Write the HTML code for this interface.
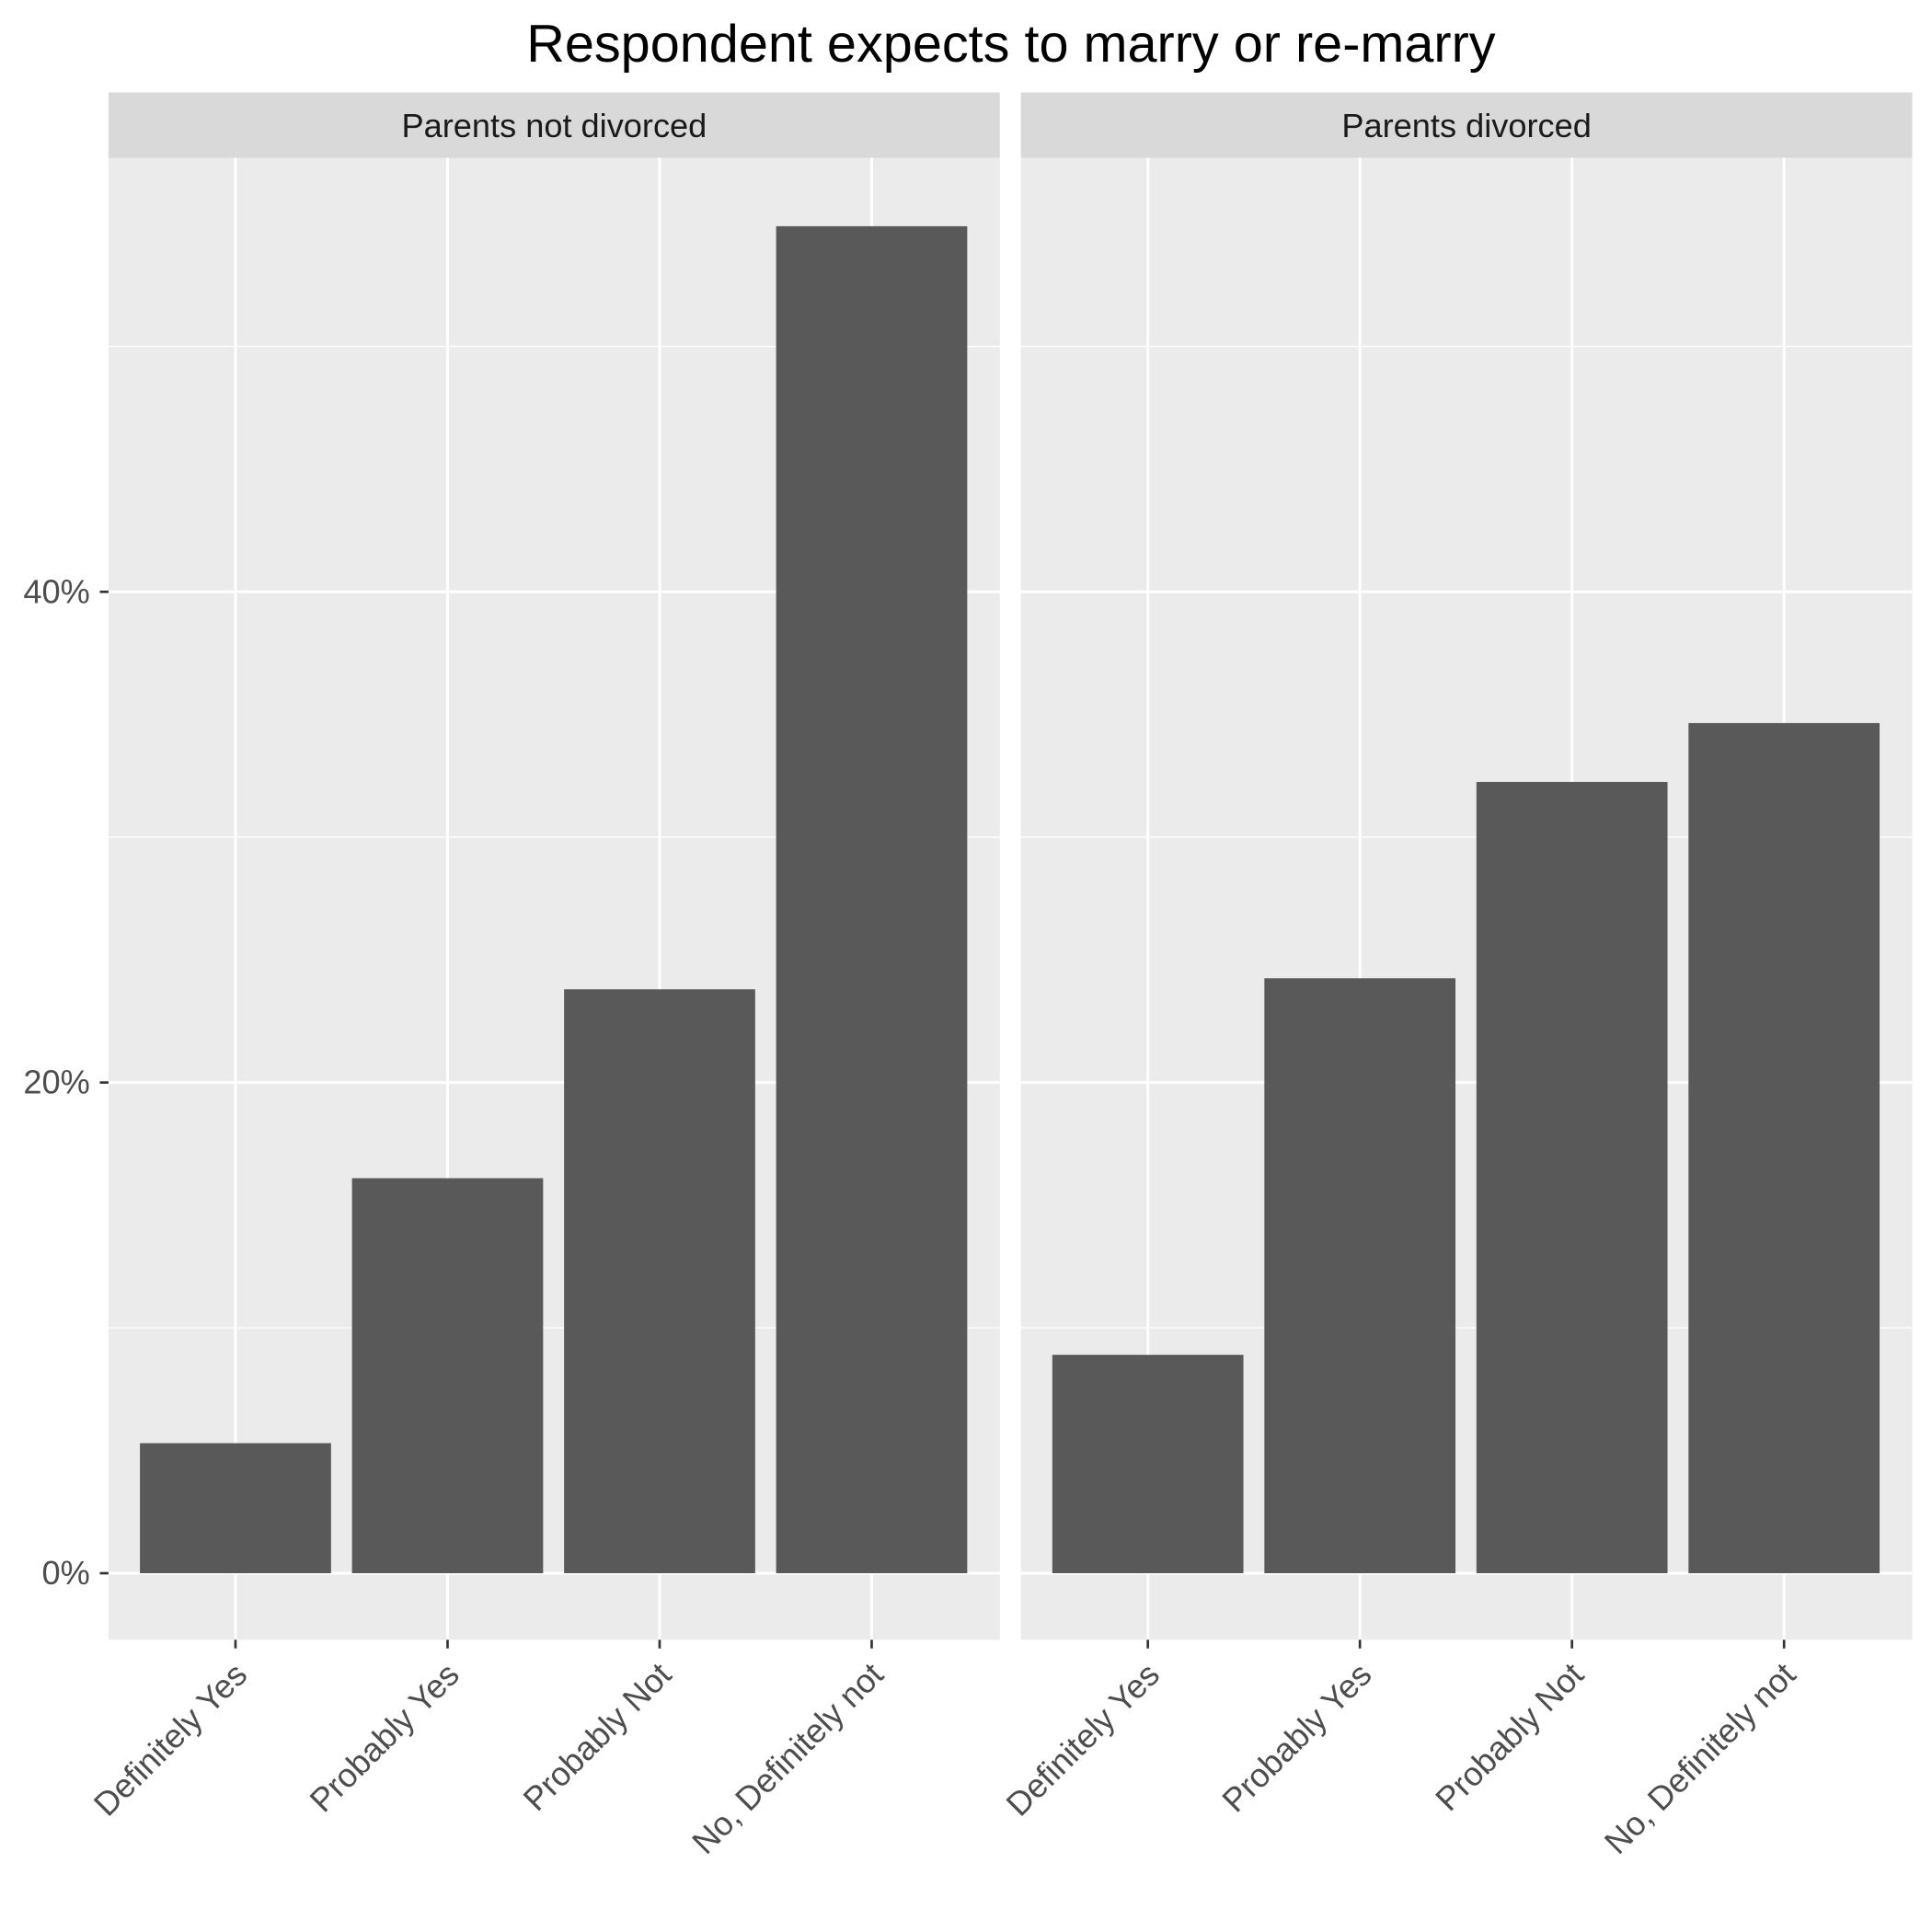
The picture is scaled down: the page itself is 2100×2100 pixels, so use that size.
<!DOCTYPE html>
<html><head><meta charset="utf-8"><style>html,body{margin:0;padding:0;background:#fff}svg{display:block}</style></head>
<body>
<svg id="chart" width="2100" height="2100" viewBox="0 0 1567 1567" xmlns="http://www.w3.org/2000/svg" font-family="'Liberation Sans', Arial, sans-serif">
<text x="820" y="50" font-size="43" text-anchor="middle" fill="#000">Respondent expects to marry or re-marry</text>
<g id="plot"></g>
</svg>
<script>
const categories = ["Definitely Yes", "Probably Yes", "Probably Not", "No, Definitely not"];
const panels = ["Parents not divorced", "Parents divorced"];
const notDivorcedValues = [5.3, 16.1, 23.8, 54.9];
const divorcedValues = [8.9, 24.25, 32.25, 34.65];
const yTicks = [0, 20, 40];
const yTickLabels = ["0%", "20%", "40%"];
const yMinor = [10, 30, 50];

{
const NS = "http://www.w3.org/2000/svg";
const g = document.getElementById("plot");
function el(tag, attrs, parent) {
  const e = document.createElementNS(NS, tag);
  for (const k in attrs) e.setAttribute(k, attrs[k]);
  (parent || g).appendChild(e);
  return e;
}
const plotTop = 128, plotBottom = 1330;
const y = v => 1276 - v * 19.9;
const panelX = [88, 828], panelW = 723, step = 172;
const x = (pi, i) => panelX[pi] + 103 + i * step;
const series = [notDivorcedValues, divorcedValues];

panels.forEach((name, pi) => {
  const px = panelX[pi];
  const pg = el("g", {});
  
  
  const bg = el("rect", {x: px, y: plotTop, width: panelW, height: plotBottom - plotTop, fill: "#ebebeb"}, pg);
  
  
  const strip = el("rect", {x: px, y: 75, width: panelW, height: 53, fill: "#d9d9d9"}, pg);
  
  
  const st = el("text", {x: px + panelW / 2, y: 111, "font-size": 27, "text-anchor": "middle", fill: "#1a1a1a"}, pg);
  st.textContent = name;
  
  
  yMinor.forEach(v => {
    const l = el("line", {x1: px, x2: px + panelW, y1: y(v), y2: y(v), stroke: "#fff", "stroke-width": 1}, pg);
    
    
  });
  yTicks.forEach(v => {
    const l = el("line", {x1: px, x2: px + panelW, y1: y(v), y2: y(v), stroke: "#fff", "stroke-width": 2.2}, pg);
    
    
  });
  categories.forEach((c, i) => {
    const cx = x(pi, i);
    const l = el("line", {x1: cx, x2: cx, y1: plotTop, y2: plotBottom, stroke: "#fff", "stroke-width": 2.2}, pg);
    
    
  });
  categories.forEach((c, i) => {
    const cx = x(pi, i), v = series[pi][i];
    const b = el("rect", {x: cx - 77.5, y: y(v), width: 155, height: y(0) - y(v), fill: "#595959"}, pg);
    
    
    const t = el("line", {x1: cx, x2: cx, y1: plotBottom, y2: plotBottom + 7, stroke: "#333", "stroke-width": 2}, pg);
    
    
    const lb = el("text", {x: 0, y: 0, "font-size": 27, "text-anchor": "end", fill: "#4d4d4d",
      transform: `translate(${cx + 11},${plotBottom + 30}) rotate(-45)`}, pg);
    lb.textContent = c;
    
    
  });
});
yTicks.forEach((v, i) => {
  const t = el("line", {x1: 81, x2: 88, y1: y(v), y2: y(v), stroke: "#333", "stroke-width": 2});
  
  
  const lb = el("text", {x: 73, y: y(v) + 9, "font-size": 27, "text-anchor": "end", fill: "#4d4d4d"});
  lb.textContent = yTickLabels[i];
  
  
});
}
</script>
</body></html>
